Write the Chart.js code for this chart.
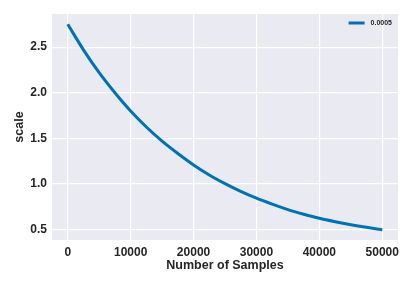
<!DOCTYPE html>
<html>
<head>
<meta charset="utf-8">
<script src="https://cdn.jsdelivr.net/npm/chart.js@4"></script>
<style>
    body { margin: 0; background: #fff; }
    canvas { display: block; }
</style>
</head>
<body>
<canvas id="chart" width="415" height="286"></canvas>
<script>
// values
const samples = [0, 2500, 5000, 7500, 10000, 12500, 15000, 17500, 20000, 22500, 25000,
                 27500, 30000, 32500, 35000, 37500, 40000, 42500, 45000, 47500, 50000];
const scaleValues = [2.75, 2.47, 2.22, 2.00, 1.80, 1.625, 1.47, 1.335, 1.21, 1.10, 1.005,
                     0.92, 0.845, 0.78, 0.72, 0.67, 0.625, 0.588, 0.555, 0.526, 0.50];
const seriesLabel = '0.0005';
const xTicks = [0, 10000, 20000, 30000, 40000, 50000];
const yTicks = [0.5, 1.0, 1.5, 2.0, 2.5];

const blue = '#0072B2';
const textColor = '#262626';
const tickFont = { family: 'Liberation Sans', size: 12, weight: 'bold' };
const titleFont = { family: 'Liberation Sans', size: 12.5, weight: 'bold' };

// grey plot background like seaborn darkgrid
const plotBackground = {
    id: 'plotBackground',
    beforeDraw(chart) {
        const { ctx, chartArea: a } = chart;
        ctx.save();
        ctx.fillStyle = '#EAEAF2';
        ctx.fillRect(a.left, a.top, a.right - a.left, a.bottom - a.top);
        ctx.restore();
    }
};

// small legend in the top right corner of the plot
const cornerLegend = {
    id: 'cornerLegend',
    afterDraw(chart) {
        const { ctx, chartArea: a } = chart;
        const ds = chart.data.datasets[0];
        ctx.save();
        ctx.font = 'bold 7px "Liberation Sans"';
        const w = ctx.measureText(ds.label).width;
        const textX = a.right - 6 - w;
        const y = a.top + 9;
        ctx.strokeStyle = ds.borderColor;
        ctx.lineWidth = 3;
        ctx.beginPath();
        ctx.moveTo(textX - 22, y);
        ctx.lineTo(textX - 6, y);
        ctx.stroke();
        ctx.fillStyle = textColor;
        ctx.textBaseline = 'middle';
        ctx.fillText(ds.label, textX, y);
        ctx.restore();
    }
};

new Chart(document.getElementById('chart').getContext('2d'), {
    type: 'line',
    data: {
        datasets: [{
            label: seriesLabel,
            data: samples.map((x, i) => ({ x: x, y: scaleValues[i] })),
            borderColor: blue,
            backgroundColor: blue,
            borderWidth: 3,
            pointRadius: 0,
            cubicInterpolationMode: 'monotone',
            fill: false
        }]
    },
    options: {
        responsive: false,
        devicePixelRatio: 1,
        animation: false,
        layout: { padding: { top: 14, right: 17, left: 0, bottom: 0 } },
        plugins: {
            legend: { display: false },
            tooltip: { enabled: false }
        },
        scales: {
            x: {
                type: 'linear',
                min: -2500,
                max: 52500,
                afterBuildTicks: s => { s.ticks = xTicks.map(v => ({ value: v })); },
                afterFit: s => { s.height = 46; },
                grid: { color: '#ffffff', lineWidth: 1.2, drawTicks: false },
                border: { display: false },
                ticks: { color: textColor, font: tickFont, padding: 5, maxRotation: 0,
                         callback: v => String(v) },
                title: { display: true, text: 'Number of Samples', color: textColor,
                         font: titleFont, padding: { top: 0, bottom: 13 } }
            },
            y: {
                min: 0.3875,
                max: 2.8625,
                afterBuildTicks: s => { s.ticks = yTicks.map(v => ({ value: v })); },
                afterFit: s => { s.width = 52; },
                grid: { color: '#ffffff', lineWidth: 1.2, drawTicks: false },
                border: { display: false },
                ticks: { color: textColor, font: tickFont, padding: 5,
                         callback: v => v.toFixed(1) },
                title: { display: true, text: 'scale', color: textColor,
                         font: titleFont, padding: { top: 12, bottom: 0 } }
            }
        }
    },
    plugins: [plotBackground, cornerLegend]
});
</script>
</body>
</html>
